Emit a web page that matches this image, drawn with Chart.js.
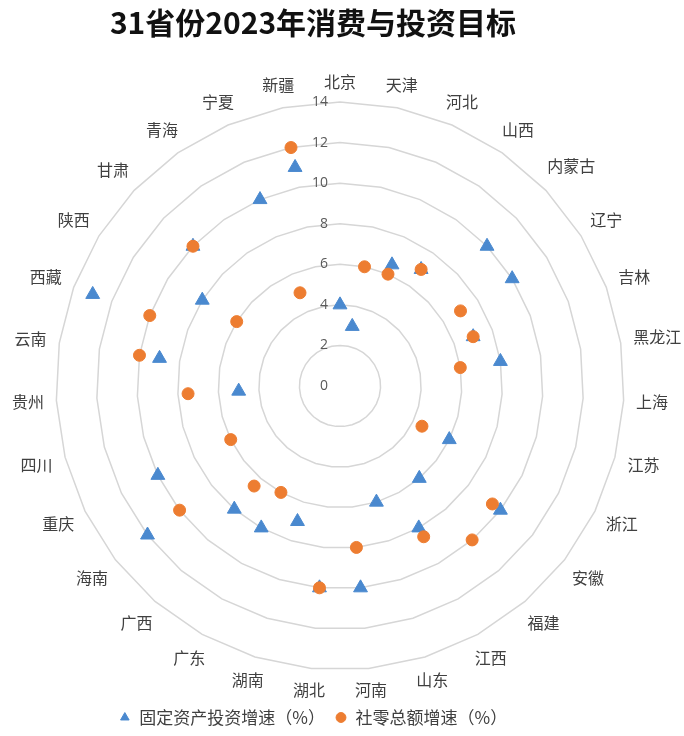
<!DOCTYPE html>
<html>
<head>
<meta charset="utf-8">
<script src="https://cdn.jsdelivr.net/npm/chart.js@4.4.0/dist/chart.umd.min.js"></script>
<style>
  body { margin: 0; background: #fff; }
</style>
</head>
<body>
<canvas id="targets" width="684" height="736"></canvas>
<script>
// provinces, clockwise from the top
const provinces = ['北京', '天津', '河北', '山西', '内蒙古', '辽宁', '吉林', '黑龙江', '上海', '江苏',
  '浙江', '安徽', '福建', '江西', '山东', '河南', '湖北', '湖南', '广东', '广西',
  '海南', '重庆', '四川', '贵州', '云南', '西藏', '陕西', '甘肃', '青海', '宁夏', '新疆'];

// 固定资产投资增速 (%), null = no target shown
const investGrowth = [4, 3, 6.5, 7, 10, 10, 7, 8, null, null,
  6, 10, 6, 8, 6, 10, 10, 7, 8, 8,
  12, 10, null, 5, 9, 13, 8, 10, null, 10, 11];

// 社零总额增速 (%)
const retailGrowth = [null, 6, 6, 7, null, 7, 7, 6, null, null,
  4.5, 9.5, 10, 8.5, null, 8, 10, null, 6, 6.5,
  10, 6, null, 7.5, 10, 10, 6, 10, null, 5, 12];

const seriesNames = ['固定资产投资增速（%）', '社零总额增速（%）'];
const tickStep = 2;
const tickMax = 14;

const blue = '#4a89cf';
const orange = '#ed7d31';

// tick numbers left of the axis and province names, drawn off the scale
const axisText = {
  id: 'axisText',
  beforeDatasetsDraw(chart) {
    const r = chart.scales.r;
    const ctx = chart.ctx;
    ctx.save();
    ctx.font = '14px "Open Sans"';
    ctx.fillStyle = '#595959';
    ctx.textAlign = 'right';
    ctx.textBaseline = 'middle';
    r.ticks.forEach(t => {
      ctx.fillText(t.label, r.xCenter - 12, r.yCenter - r.getDistanceFromCenterForValue(t.value));
    });
    ctx.font = '16px "Noto Sans CJK SC"';
    ctx.fillStyle = '#404040';
    ctx.textAlign = 'center';
    provinces.forEach((name, i) => {
      const a = r.getIndexAngle(i);
      const ux = Math.sin(a), uy = Math.cos(a);
      const w = ctx.measureText(name).width;
      const d = r.drawingArea + 12 + Math.abs(ux) * w / 2 + Math.abs(uy) * 8;
      const p = r.getPointPosition(i, d);
      ctx.fillText(name, p.x, p.y);
    });
    ctx.restore();
  }
};

new Chart('targets', {
  type: 'radar',
  data: {
    labels: provinces,
    datasets: [{
      label: seriesNames[0],
      data: investGrowth,
      showLine: false,
      fill: false,
      borderWidth: 0,
      pointStyle: 'triangle',
      pointRadius: 8,
      pointBackgroundColor: blue,
      pointBorderColor: blue,
      pointBorderWidth: 1,
      backgroundColor: 'transparent',
      borderColor: 'transparent',
      order: 1
    }, {
      label: seriesNames[1],
      data: retailGrowth,
      showLine: false,
      fill: false,
      borderWidth: 0,
      pointStyle: 'circle',
      pointRadius: 6,
      pointBackgroundColor: orange,
      pointBorderColor: orange,
      pointBorderWidth: 1,
      backgroundColor: 'transparent',
      borderColor: 'transparent',
      order: 0
    }]
  },
  options: {
    responsive: false,
    animation: false,
    events: [],
    layout: { padding: { right: 58 } },
    plugins: {
      title: {
        display: true,
        text: '31省份2023年消费与投资目标',
        color: '#111',
        font: { family: '"Noto Sans CJK SC"', size: 30, weight: 'bold' },
        padding: { top: 5, bottom: 10 }
      },
      legend: {
        position: 'bottom',
        labels: {
          usePointStyle: true,
          boxWidth: 12,
          boxHeight: 7,
          padding: 10,
          color: '#404040',
          font: { family: '"Noto Sans CJK SC"', size: 17 },
          sort: (a, b) => a.datasetIndex - b.datasetIndex
        }
      },
      tooltip: { enabled: false }
    },
    scales: {
      r: {
        min: 0,
        max: tickMax,
        ticks: { stepSize: tickStep, display: false },
        grid: { color: '#d6d6d6', lineWidth: 1.5 },
        angleLines: { display: false },
        pointLabels: { display: false },
        // plot sits a little right of the title/legend centre
        afterFit: function (scale) {
          scale.xCenter = 340;
          scale.yCenter = 386;
          scale.drawingArea = 284;
        }
      }
    }
  },
  plugins: [axisText]
});
</script>
</body>
</html>
